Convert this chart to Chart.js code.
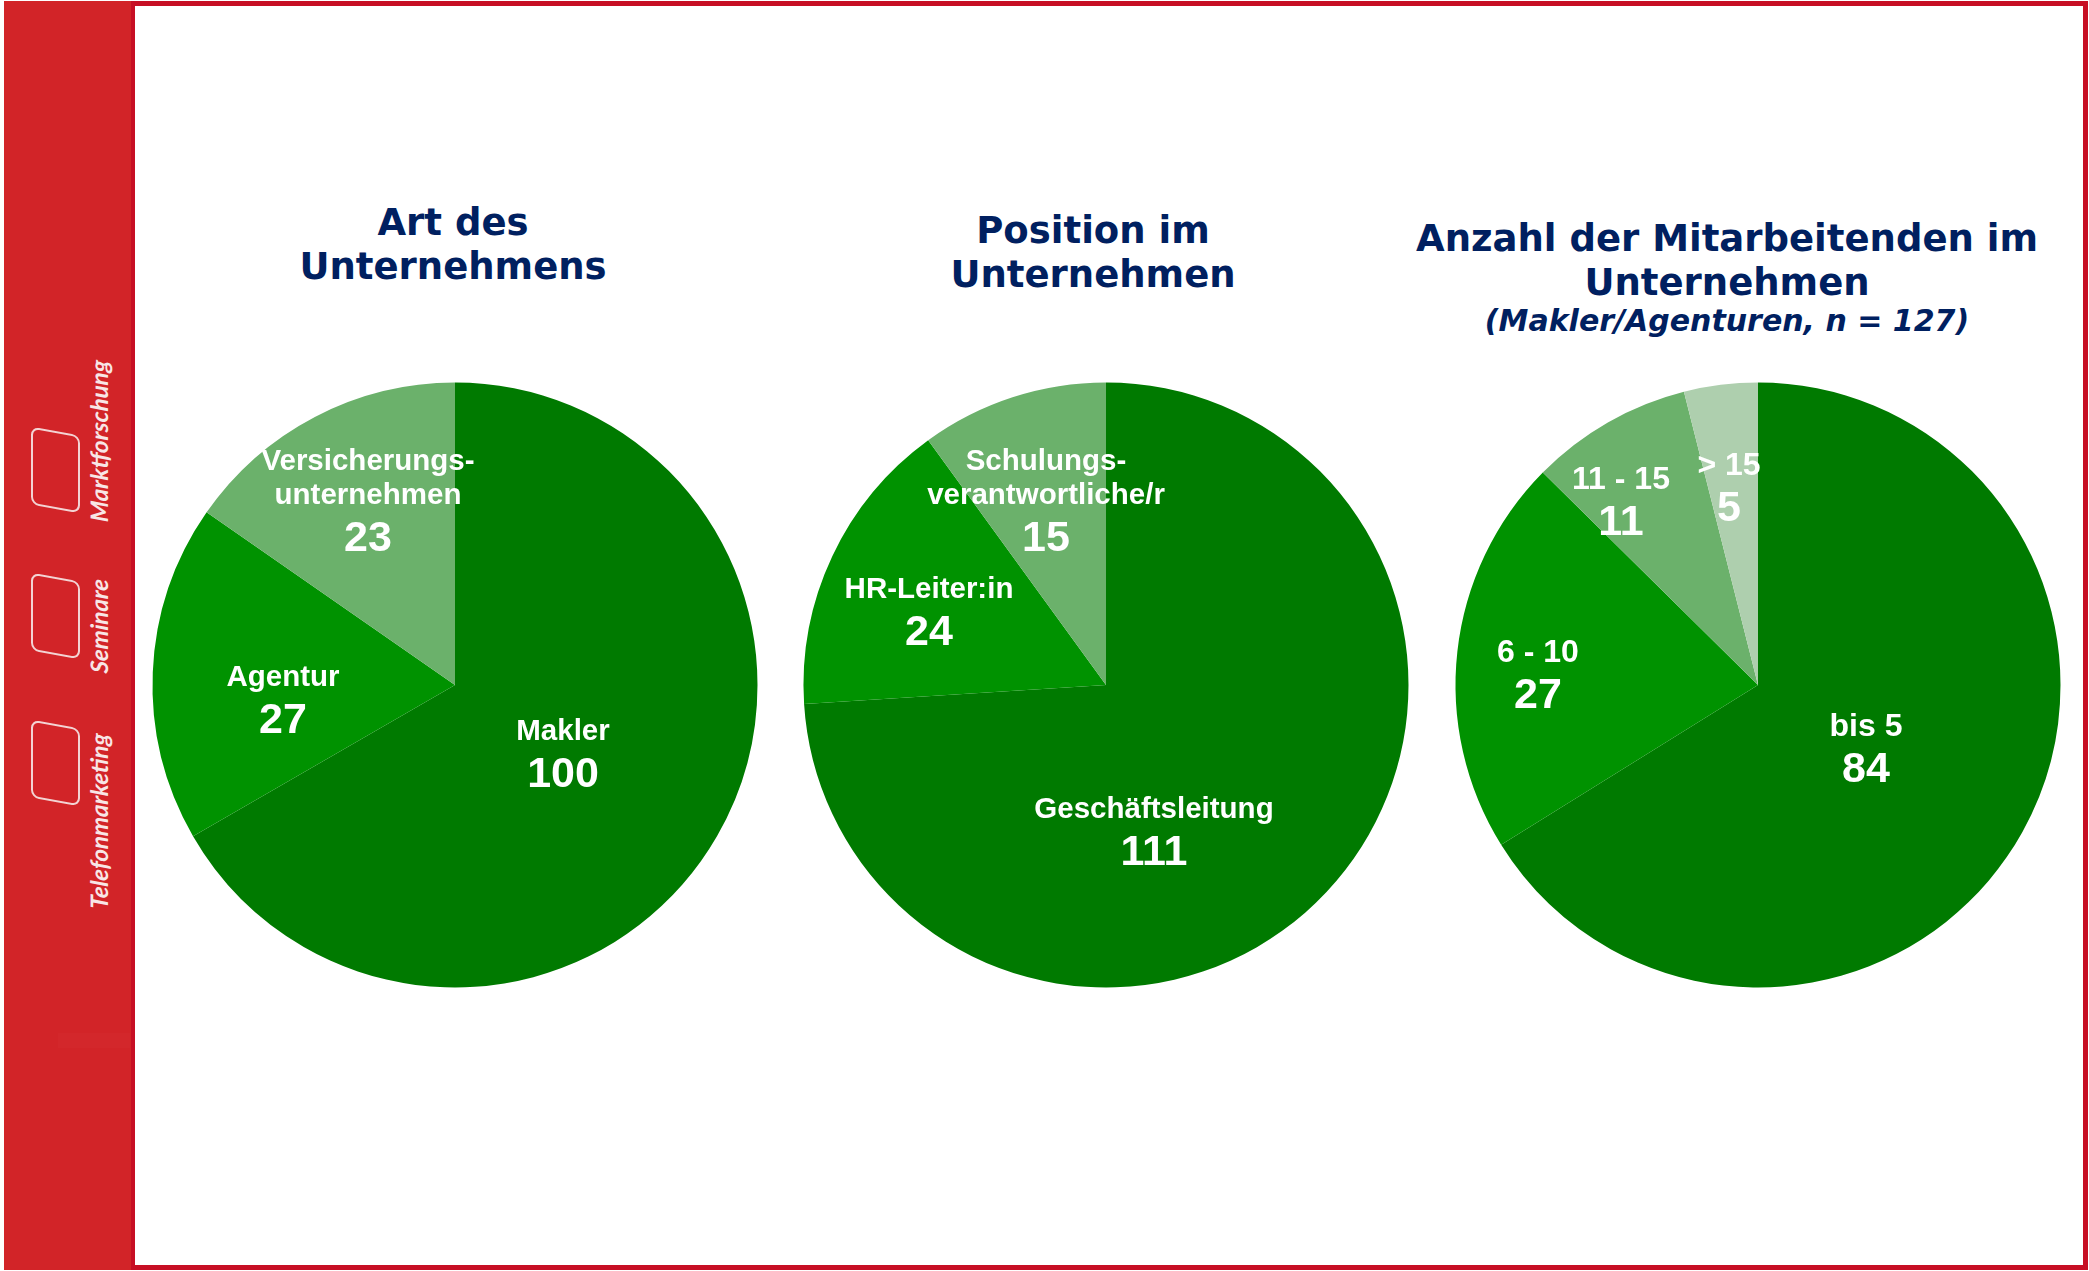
<!DOCTYPE html>
<html lang="de">
<head>
<meta charset="utf-8">
<title>Unternehmen</title>
<script src="https://cdn.jsdelivr.net/npm/chart.js@4/dist/chart.umd.min.js"></script>
<style>
html, body { margin: 0; padding: 0; background: #fff; }
#page { position: relative; width: 2089px; height: 1271px; overflow: hidden; }
#frame { position: absolute; left: 130px; top: 1px; width: 1948px; height: 1259px; border: 5px solid #c70f24; }
#side { position: absolute; left: 4px; top: 1px; width: 127px; height: 1269px; background: #d22428; }
#strip { position: absolute; left: 58px; top: 1033px; width: 72px; height: 15px; background: #d3272b; }
.box { position: absolute; left: 31px; width: 45px; height: 74px; border: 2.5px solid #f3d3d3; border-radius: 8px; transform: skewY(10deg); }
.nav { position: absolute; left: 98px; color: #f8e6e6; font: italic 700 24px Lato, sans-serif; white-space: nowrap; transform: translate(-50%, -50%) rotate(-90deg) skewX(-4deg); }
.title { position: absolute; transform: translateX(-50%); text-align: center; white-space: nowrap; color: #002060; font: 700 37px/44px "DejaVu Sans", sans-serif; }
.sub { position: absolute; transform: translateX(-50%); white-space: nowrap; color: #002060; font: italic 700 30px/36px "DejaVu Sans", sans-serif; }
canvas { position: absolute; }
</style>
</head>
<body>
<div id="page">
  <div id="frame"></div>
  <div id="side"></div>
  <div id="strip"></div>
  <div class="box" style="top:431px"></div>
  <div class="box" style="top:577px"></div>
  <div class="box" style="top:724px"></div>
  <div class="nav" style="top:441px">Marktforschung</div>
  <div class="nav" style="top:626px">Seminare</div>
  <div class="nav" style="top:821px">Telefonmarketing</div>

  <div class="title" style="left:453px;top:201px">Art des<br>Unternehmens</div>
  <div class="title" style="left:1093px;top:209px">Position im<br>Unternehmen</div>
  <div class="title" style="left:1727px;top:217px">Anzahl der Mitarbeitenden im<br>Unternehmen</div>
  <div class="sub" style="left:1727px;top:303px">(Makler/Agenturen, n = 127)</div>

  <canvas id="pie1" width="640" height="640" style="left:135px;top:365px"></canvas>
  <canvas id="pie2" width="640" height="640" style="left:786px;top:365px"></canvas>
  <canvas id="pie3" width="640" height="640" style="left:1438px;top:365px"></canvas>
</div>
<script>
const artLabels = [['Makler'], ['Agentur'], ['Versicherungs-', 'unternehmen']];
const artValues = [100, 27, 23];
const positionLabels = [['Geschäftsleitung'], ['HR-Leiter:in'], ['Schulungs-', 'verantwortliche/r']];
const positionValues = [111, 24, 15];
const mitarbeiterLabels = [['bis 5'], ['6 - 10'], ['11 - 15'], ['> 15']];
const mitarbeiterValues = [84, 27, 11, 5];

const colors = ['#007a00', '#009200', '#6bb16b', '#aecfae'];

// where each number sits, measured from the pie centre; label lines go above it
const artSpots = [[108, 90], [-172, 36], [-87, -146]];
const positionSpots = [[48, 168], [-177, -52], [-60, -146]];
const mitarbeiterSpots = [[108, 85], [-220, 11], [-137, -162], [-29, -176]];

const sliceText = {
    id: 'sliceText',
    afterDatasetsDraw(chart, args, opts) {
        const ctx = chart.ctx;
        const meta = chart.getDatasetMeta(0);
        const values = chart.data.datasets[0].data;
        ctx.save();
        ctx.fillStyle = '#fff';
        ctx.textAlign = 'center';
        ctx.textBaseline = 'middle';
        meta.data.forEach(function (arc, i) {
            const x = arc.x + opts.spots[i][0];
            const y = arc.y + opts.spots[i][1];
            const lines = chart.data.labels[i];
            ctx.font = 'bold 43px "Liberation Sans"';
            ctx.fillText(String(values[i]), x, y);
            ctx.font = 'bold ' + opts.labelSize + 'px "Liberation Sans"';
            lines.forEach(function (line, k) {
                ctx.fillText(line, x, y - 43 - (lines.length - 1 - k) * 34);
            });
        });
        ctx.restore();
    }
};

function makePie(id, labels, values, spots, labelSize) {
    return new Chart(document.getElementById(id), {
        type: 'pie',
        data: {
            labels: labels,
            datasets: [{ data: values, backgroundColor: colors.slice(0, values.length), borderWidth: 0 }]
        },
        options: {
            responsive: false,
            animation: false,
            radius: 302.5,
            plugins: {
                legend: { display: false },
                tooltip: { enabled: false },
                sliceText: { spots: spots, labelSize: labelSize }
            }
        },
        plugins: [sliceText]
    });
}

makePie('pie1', artLabels, artValues, artSpots, 29.5);
makePie('pie2', positionLabels, positionValues, positionSpots, 29.5);
makePie('pie3', mitarbeiterLabels, mitarbeiterValues, mitarbeiterSpots, 32);
</script>
</body>
</html>
